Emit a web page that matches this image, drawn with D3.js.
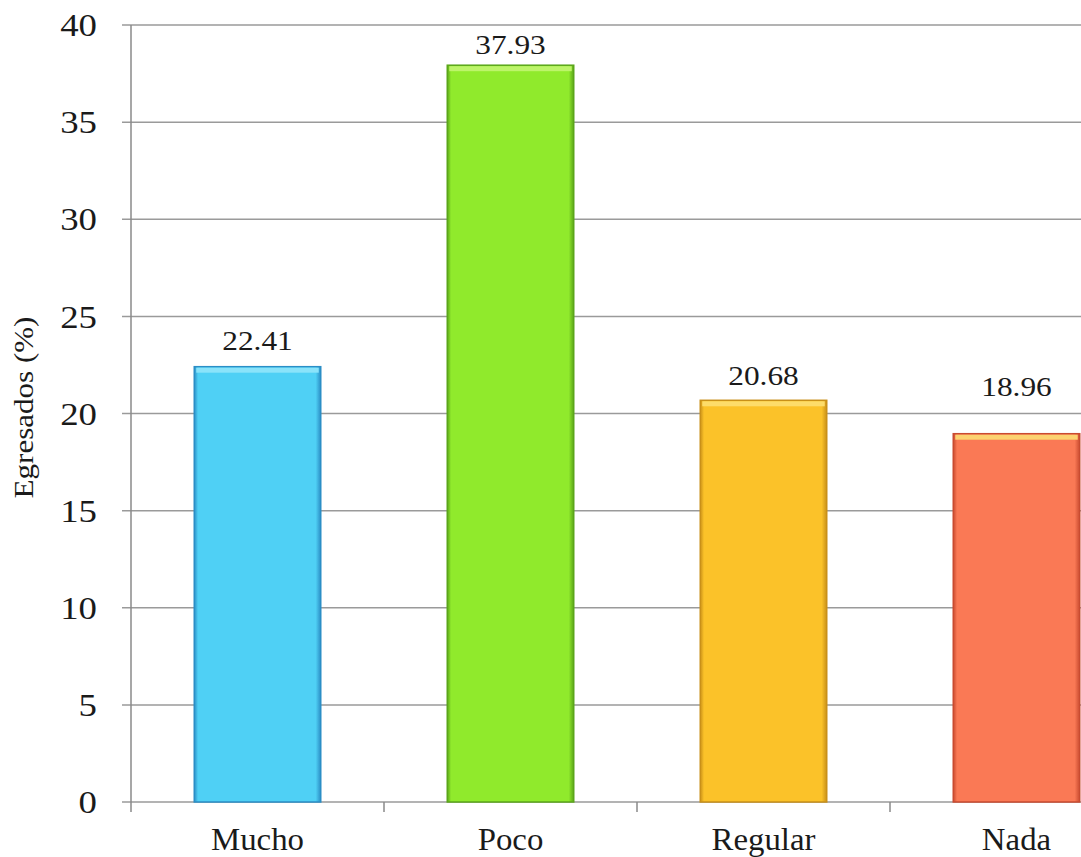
<!DOCTYPE html>
<html>
<head>
<meta charset="utf-8">
<script src="https://cdn.jsdelivr.net/npm/d3@7"></script>
<style>
  html, body { margin: 0; padding: 0; background: #fff; }
  svg { display: block; }
  text { font-family: "Liberation Serif", "Times New Roman", serif; fill: #1a1a1a; }
</style>
</head>
<body>
<svg id="chart" width="1081" height="857"></svg>
<script>
// Chart data
const categories = ["Mucho", "Poco", "Regular", "Nada"];
const values = [22.41, 37.93, 20.68, 18.96];
const valueLabels = ["22.41", "37.93", "20.68", "18.96"];
const yTicks = [0, 5, 10, 15, 20, 25, 30, 35, 40];
const yTitle = "Egresados (%)";

// Bar colours: main fill, darker edge, lighter top bevel
const fills = ["#4fd0f5", "#90ea2c", "#fbc229", "#fa7955"];
const edges = ["#2b8ec6", "#5ba61a", "#c99018", "#c94b30"];
const tops  = ["#8ae3fa", "#bdf46a", "#fddc6a", "#fcd270"];

// Gap between each bar top and its value label
const labelGap = [17, 11, 15, 38];

const W = 1081;
const plotLeft = 131, plotTop = 25, plotBottom = 802;
const wide = 1.15; // the serif face is set slightly wide

const svg = d3.select("#chart");
const defs = svg.append("defs");

const y = d3.scaleLinear().domain([0, 40]).range([plotBottom, plotTop]);
const x = d3.scaleBand().domain(categories).range([plotLeft, plotLeft + 4 * 253]).padding(0);

// Gridlines
svg.append("g")
  .selectAll("line")
  .data(yTicks)
  .join("line")
  .attr("x1", plotLeft - 9)
  .attr("x2", W)
  .attr("y1", d => y(d))
  .attr("y2", d => y(d))
  .attr("stroke", "#9a9a9a")
  .attr("stroke-width", 1.5);

// Y axis line
svg.append("line")
  .attr("x1", plotLeft).attr("x2", plotLeft)
  .attr("y1", y(40)).attr("y2", plotBottom + 10)
  .attr("stroke", "#8a8a8a").attr("stroke-width", 1.5);

// Category boundary ticks
svg.append("g")
  .selectAll("line")
  .data(categories.slice(1))
  .join("line")
  .attr("x1", d => x(d)).attr("x2", d => x(d))
  .attr("y1", plotBottom).attr("y2", plotBottom + 10)
  .attr("stroke", "#8a8a8a").attr("stroke-width", 1.5);

// Y tick labels
svg.append("g")
  .selectAll("text")
  .data(yTicks)
  .join("text")
  .attr("transform", d => `translate(97, ${y(d)}) scale(${wide}, 1)`)
  .attr("dy", "0.35em")
  .attr("text-anchor", "end")
  .attr("font-size", 32)
  .text(d => d);

// Y axis title
svg.append("text")
  .attr("transform", `translate(33, ${(plotTop + plotBottom) / 2 - 6}) rotate(-90) scale(${wide}, 1)`)
  .attr("text-anchor", "middle")
  .attr("font-size", 27)
  .text(yTitle);

// Gradients for bar bevel
categories.forEach((c, i) => {
  const g = defs.append("linearGradient")
    .attr("id", "grad" + i)
    .attr("x1", 0).attr("x2", 1).attr("y1", 0).attr("y2", 0);
  g.append("stop").attr("offset", "0%").attr("stop-color", edges[i]);
  g.append("stop").attr("offset", "3%").attr("stop-color", fills[i]);
  g.append("stop").attr("offset", "96%").attr("stop-color", fills[i]);
  g.append("stop").attr("offset", "100%").attr("stop-color", edges[i]);
});

const bw = x.bandwidth() * 0.5;
const bars = svg.append("g")
  .selectAll("g")
  .data(categories.map((c, i) => ({ c, v: values[i], label: valueLabels[i], i })))
  .join("g");

bars.append("rect")
  .attr("x", d => x(d.c) + x.bandwidth() * 0.25)
  .attr("y", d => y(d.v))
  .attr("width", bw)
  .attr("height", d => plotBottom - y(d.v))
  .attr("fill", d => `url(#grad${d.i})`)
  .attr("stroke", d => edges[d.i])
  .attr("stroke-width", 1.5);

// Top bevel highlight
bars.append("rect")
  .attr("x", d => x(d.c) + x.bandwidth() * 0.25 + 2)
  .attr("y", d => y(d.v) + 1)
  .attr("width", bw - 4)
  .attr("height", 5)
  .attr("fill", d => tops[d.i]);

// Value labels
bars.append("text")
  .attr("transform", d => `translate(${x(d.c) + x.bandwidth() / 2}, ${y(d.v) - labelGap[d.i]}) scale(1.12, 1)`)
  .attr("text-anchor", "middle")
  .attr("font-size", 28)
  .text(d => d.label);

// Category labels
svg.append("g")
  .selectAll("text")
  .data(categories)
  .join("text")
  .attr("transform", d => `translate(${x(d) + x.bandwidth() / 2}, 850) scale(1.06, 1)`)
  .attr("text-anchor", "middle")
  .attr("font-size", 31)
  .text(d => d);
</script>
</body>
</html>
